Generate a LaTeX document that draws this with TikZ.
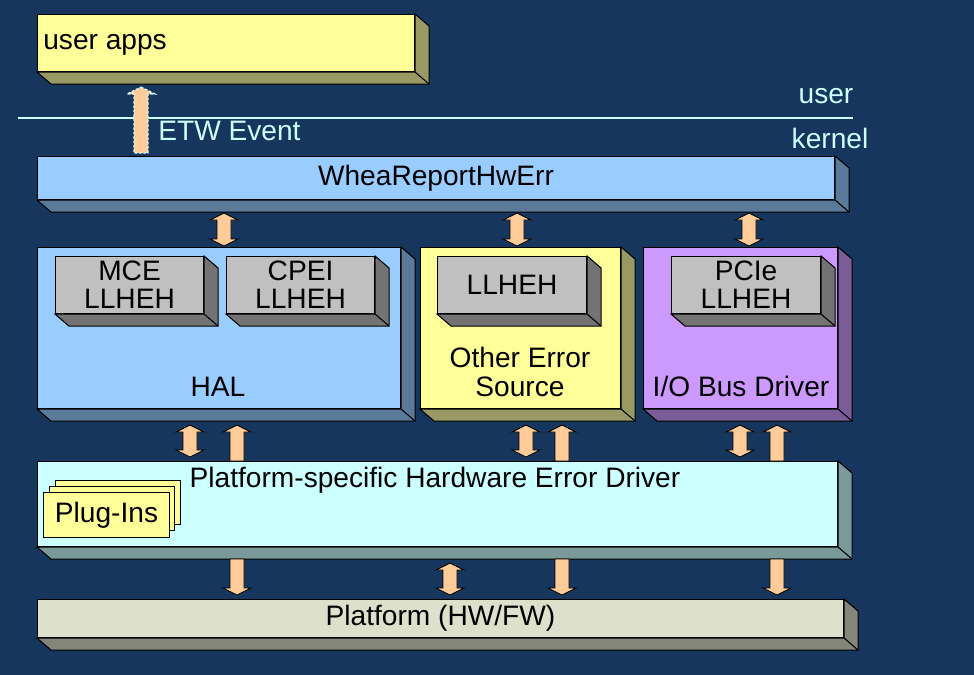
\documentclass[tikz,border=0pt]{standalone}
\usepackage{fontspec}
\setmainfont{Liberation Sans}
\usepackage{tikz}
\usetikzlibrary{positioning}
\definecolor{navy}{RGB}{23,54,93}
\definecolor{pale}{RGB}{204,255,255}
\definecolor{paleside}{RGB}{122,153,153}
\definecolor{peach}{RGB}{255,204,153}
\definecolor{lemon}{RGB}{255,255,153}
\definecolor{lemonside}{RGB}{153,153,102}
\definecolor{sky}{RGB}{153,204,255}
\definecolor{skyside}{RGB}{91,121,153}
\definecolor{lilac}{RGB}{204,153,255}
\definecolor{lilacside}{RGB}{122,92,153}
\definecolor{silver}{RGB}{192,192,192}
\definecolor{silverside}{RGB}{115,115,115}
\definecolor{stone}{RGB}{221,224,202}
\definecolor{stoneside}{RGB}{133,134,122}
\tikzset{
  slab/.style={draw=black,line width=0.6pt,inner sep=0pt,anchor=north west,align=center,font=\fontsize{16}{16}\selectfont},
  wh/.style 2 args={minimum width=#1*0.2mm,minimum height=#2*0.2mm},
  txt/.style={font=\fontsize{16}{16}\selectfont,align=center,inner sep=0pt,anchor=base},
  note/.style={txt,text=pale},
  fatarr/.style={fill=peach,draw=black,line width=0.5pt},
  etwarr/.style={fill=peach,draw=pale,line width=0.7pt,dash pattern=on 1.5pt off 1pt},
  sepline/.style={draw=pale,line width=1pt},
}
% 3d side and bottom face of a box
\newcommand{\side}[2]{%
  \filldraw[fill=#2,line width=0.6pt] (#1.north east) -- ++(14,12) -- ([shift={(14,12)}]#1.south east)
    -- ([shift={(14,12)}]#1.south west) -- (#1.south west) -- (#1.south east) -- cycle;
  \draw[line width=0.6pt] (#1.south east) -- ++(14,12);
  \coordinate (#1low) at ([yshift=-2.4mm]#1.south);}
% fat arrows: gap, column, upper, lower
\newcommand{\duoarr}[4][0.8mm]{%
  \filldraw[fatarr] ([yshift=-#1]#2 |- #3)
    -- ([xshift=2.8mm,yshift=-1.4mm-#1]#2 |- #3) -- ([xshift=1.4mm,yshift=-1.4mm-#1]#2 |- #3)
    -- ([xshift=1.4mm,yshift=1.4mm+#1]#2 |- #4) -- ([xshift=2.8mm,yshift=1.4mm+#1]#2 |- #4)
    -- ([yshift=#1]#2 |- #4)
    -- ([xshift=-2.8mm,yshift=1.4mm+#1]#2 |- #4) -- ([xshift=-1.4mm,yshift=1.4mm+#1]#2 |- #4)
    -- ([xshift=-1.4mm,yshift=-1.4mm-#1]#2 |- #3) -- ([xshift=-2.8mm,yshift=-1.4mm-#1]#2 |- #3) -- cycle;}
\newcommand{\uparr}[5][fatarr]{%
  \filldraw[#1] ([yshift=-#2]#3 |- #4)
    -- ([xshift=2.8mm,yshift=-1.4mm-#2]#3 |- #4) -- ([xshift=1.4mm,yshift=-1.4mm-#2]#3 |- #4)
    -- ([xshift=1.4mm]#3 |- #5) -- ([xshift=-1.4mm]#3 |- #5)
    -- ([xshift=-1.4mm,yshift=-1.4mm-#2]#3 |- #4) -- ([xshift=-2.8mm,yshift=-1.4mm-#2]#3 |- #4) -- cycle;}
\newcommand{\downarr}[3]{%
  \filldraw[fatarr] ([xshift=-1.4mm]#1 |- #2) -- ([xshift=1.4mm]#1 |- #2)
    -- ([xshift=1.4mm,yshift=2.2mm]#1 |- #3) -- ([xshift=2.8mm,yshift=2.2mm]#1 |- #3)
    -- ([yshift=0.8mm]#1 |- #3)
    -- ([xshift=-2.8mm,yshift=2.2mm]#1 |- #3) -- ([xshift=-1.4mm,yshift=2.2mm]#1 |- #3) -- cycle;}

\begin{document}
\begin{tikzpicture}[x=0.2mm,y=-0.2mm]
  \fill[navy] (0,0) rectangle (974,675);

  % user space
  \node[slab,wh={377}{57},fill=lemon] (user) at (37,14) {};
  \side{user}{lemonside}
  \node[txt,anchor=base west] (userapps) at (43,50) {user apps};
  \coordinate (sepL) at (18,118);
  \coordinate (sepR) at (853,118);
  \draw[sepline] (sepL) -- (sepR);
  \node[note] (usertxt) at (826,104) {user};
  \node[note] (kerneltxt) at (830,149) {kernel};

  % kernel layers
  \node[slab,wh={797}{43},fill=sky] (whea) at (37,156) {WheaReportHwErr};
  \side{whea}{skyside}
  \node[slab,wh={363}{161},fill=sky] (hal) at (37,247) {};
  \side{hal}{skyside}
  \node[slab,wh={200}{161},fill=lemon] (other) at (420,247) {};
  \side{other}{lemonside}
  \node[slab,wh={194}{161},fill=lilac] (iobus) at (643,247) {};
  \side{iobus}{lilacside}
  \node[slab,wh={148}{57},fill=silver] (mce) at (55,256) {MCE\\LLHEH};
  \side{mce}{silverside}
  \node[slab,wh={148}{57},fill=silver] (cpei) at (226,256) {CPEI\\LLHEH};
  \side{cpei}{silverside}
  \node[slab,wh={149}{57},fill=silver] (llheh) at (437,256) {LLHEH};
  \side{llheh}{silverside}
  \node[slab,wh={149}{57},fill=silver] (pcie) at (671,256) {PCIe\\LLHEH};
  \side{pcie}{silverside}
  \node[txt] (haltxt) at (218,396) {HAL};
  \node[txt] (othertxt) at (520,396) {Other Error\\Source};
  \node[txt] (iobustxt) at (741,396) {I/O Bus Driver};

  \node[slab,wh={800}{85},fill=pale] (pshed) at (37,461) {};
  \side{pshed}{paleside}
  \node[txt] (pshedtxt) at (435,487) {Platform-specific Hardware Error Driver};
  \node[slab,wh={125}{44},fill=lemon] (plug3) at (55,480) {};
  \node[slab,wh={125}{44},fill=lemon] (plug2) at (49,486) {};
  \node[slab,wh={126}{45},fill=lemon] (plug1) at (43,492) {Plug-Ins};

  \node[slab,wh={806}{38},fill=stone] (plat) at (37,599) {Platform (HW/FW)};
  \side{plat}{stoneside}

  % arrow columns
  \coordinate (xetw) at (141,0);
  \coordinate (xhal) at (224,0);
  \coordinate (xoth) at (517,0);
  \coordinate (xio) at (749,0);
  \coordinate (xhalA) at (190,0);
  \coordinate (xhalB) at (237,0);
  \coordinate (xothA) at (526,0);
  \coordinate (xothB) at (562,0);
  \coordinate (xioA) at (740,0);
  \coordinate (xioB) at (777,0);
  \coordinate (xhw) at (450,0);
  \coordinate (etwbase) at ([yshift=0.6mm]whea.north);

  \uparr[etwarr]{0.6mm}{xetw}{userlow}{etwbase}
  \node[note,anchor=base west] (etwtxt) at (158,140) {ETW Event};

  \duoarr[0.2mm]{xhal}{whealow}{hal.north}
  \duoarr[0.2mm]{xoth}{whealow}{other.north}
  \duoarr[0.2mm]{xio}{whealow}{iobus.north}

  \duoarr{xhalA}{hallow}{pshed.north}
  \uparr{0.8mm}{xhalB}{hallow}{pshed.north}
  \duoarr{xothA}{otherlow}{pshed.north}
  \uparr{0.8mm}{xothB}{otherlow}{pshed.north}
  \duoarr{xioA}{iobuslow}{pshed.north}
  \uparr{0.8mm}{xioB}{iobuslow}{pshed.north}

  \downarr{xhalB}{pshedlow}{plat.north}
  \duoarr{xhw}{pshedlow}{plat.north}
  \downarr{xothB}{pshedlow}{plat.north}
  \downarr{xioB}{pshedlow}{plat.north}
\end{tikzpicture}
\end{document}
